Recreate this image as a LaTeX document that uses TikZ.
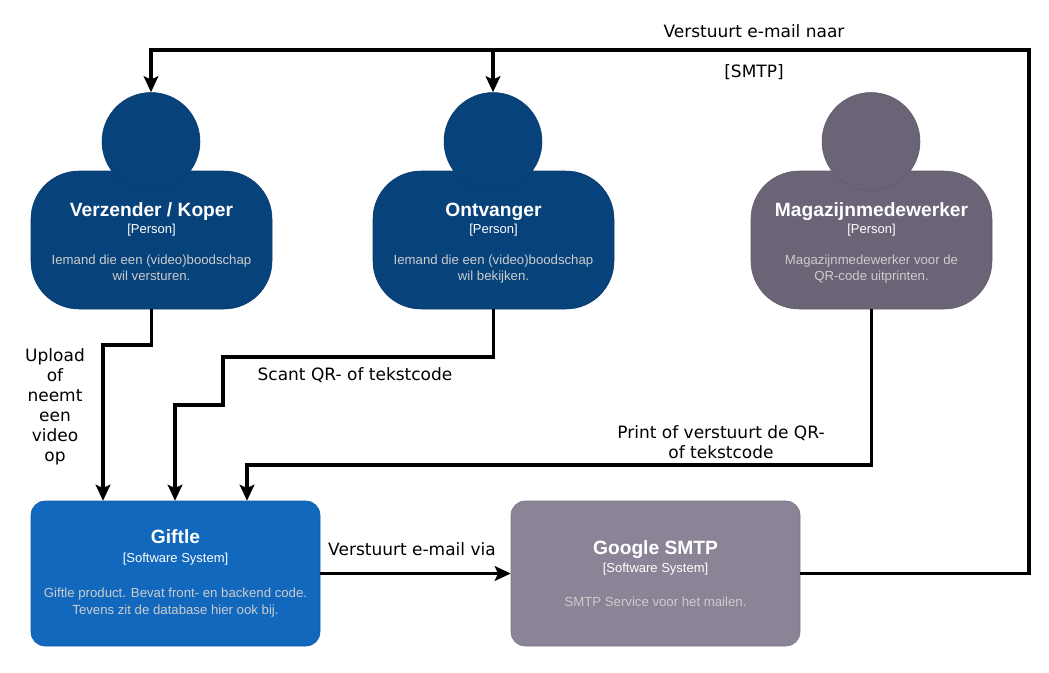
\documentclass[tikz,border=0pt]{standalone}
\usepackage{fontspec}
\setmainfont{Liberation Sans}
\newfontfamily\labelfont{DejaVu Sans}
\usetikzlibrary{arrows.meta}
\definecolor{persondark}{HTML}{08427B}
\definecolor{persongrey}{HTML}{6B6477}
\definecolor{systemblue}{HTML}{1168BD}
\definecolor{systemgrey}{HTML}{8B8496}
\newcommand{\boxtitle}{\fontsize{14.4}{14.4}\selectfont\bfseries}
\newcommand{\boxtype}{\fontsize{9.75}{12}\selectfont}
\newcommand{\boxdesc}{\fontsize{9.9}{12}\selectfont\color{black!20}}
\newcommand{\persontop}{\rule{0pt}{14.5pt}}
\newcommand{\personend}{\vphantom{p}}
\tikzset{
  head/.style={circle, minimum size=73.5pt, inner sep=0pt, draw=#1!90!black, fill=#1},
  body/.style={rectangle, rounded corners=36pt, minimum width=180.75pt, minimum height=103.5pt,
    inner sep=0pt, align=center, text=white, draw=#1!90!black, fill=#1},
  system/.style={rectangle, rounded corners=10.5pt, minimum width=216.75pt, minimum height=108.75pt,
    inner sep=0pt, align=center, text=white, draw=#1!90!black, fill=#1},
  flow/.style={line width=2.4pt, -{Stealth[length=12pt,width=11pt,inset=2.5pt]}},
  flowlabel/.style={font=\labelfont\fontsize{12.75}{15}\selectfont, align=center, inner sep=0pt},
}
\begin{document}
\begin{tikzpicture}[x=0.75pt, y=-0.75pt]
  \useasboundingbox (0,0) rectangle (1049,672);
  % persons
  \node[body=persondark] (verzender) at (151.5,240) {\boxtitle\persontop Verzender / Koper\\[0.75pt]\boxtype [Person]\\[11.5pt]\boxdesc Iemand die een (video)boodschap\\[-0.5pt]\boxdesc wil versturen.\personend};
  \node[body=persondark] (ontvanger) at (493.5,240) {\boxtitle\persontop Ontvanger\\[0.75pt]\boxtype [Person]\\[11.5pt]\boxdesc Iemand die een (video)boodschap\\[-0.5pt]\boxdesc wil bekijken.\personend};
  \node[body=persongrey] (magazijn) at (871.5,240) {\boxtitle\persontop Magazijnmedewerker\\[0.75pt]\boxtype [Person]\\[11.5pt]\boxdesc Magazijnmedewerker voor de\\[-0.5pt]\boxdesc QR-code uitprinten.\personend};
  \node[head=persondark] (verzenderhead) at (151,141.5) {};
  \node[head=persondark] (ontvangerhead) at (493,141.5) {};
  \node[head=persongrey] (magazijnhead) at (871,141.5) {};
  % systems
  \node[system=systemblue] (giftle) at (175.5,573.5) {\boxtitle Giftle\\[2pt]\boxtype [Software System]\\[14.5pt]\boxdesc Giftle product. Bevat front- en backend code.\\[1pt]\boxdesc Tevens zit de database hier ook bij.};
  \node[system=systemgrey] (smtp) at (655.5,573.5) {\boxtitle Google SMTP\\[1.5pt]\boxtype [Software System]\\[14pt]\boxdesc SMTP Service voor het mailen.};
  % bends
  \coordinate (bendA) at (103,345);
  \coordinate (bendB) at (223,357);
  \coordinate (bendC) at (175,405);
  \coordinate (bendD) at (247,465);
  \coordinate (bendE) at (1029,50);
  % connectors
  \draw[flow] (verzender.south) |- (bendA) -- (bendA |- giftle.north);
  \draw[flow] (ontvanger.south) |- (bendB) |- (bendC) -- (bendC |- giftle.north);
  \draw[flow] (magazijn.south) |- (bendD) -- (bendD |- giftle.north);
  \draw[flow] (giftle.east) -- (smtp.west);
  \draw[flow] (smtp.east) -| (bendE) -| (verzenderhead.north);
  \draw[flow] (bendE) -| (ontvangerhead.north);
  % labels
  \node[flowlabel] (lblnaar) at (754,31) {Verstuurt e-mail naar};
  \node[flowlabel] (lblsmtp) at (754,72) {[SMTP]};
  \node[flowlabel] (lblupload) at (55,407) {Upload\\of\\neemt\\een\\video\\op};
  \node[flowlabel] (lblscant) at (355,375) {Scant QR- of tekstcode};
  \node[flowlabel] (lblprint) at (721,442) {Print of verstuurt de QR-\\of tekstcode};
  \node[flowlabel] (lblvia) at (412,549) {Verstuurt e-mail via};
\end{tikzpicture}
\end{document}
